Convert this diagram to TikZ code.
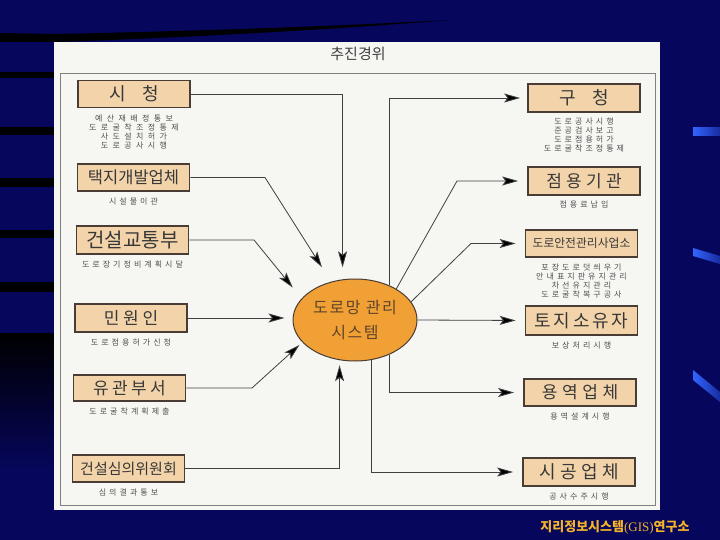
\documentclass[tikz,border=0pt]{standalone}
\usepackage{fontspec}
\setmainfont{Noto Sans CJK KR}
\newfontfamily\latinserif{Liberation Serif}
\usetikzlibrary{arrows.meta,shapes.geometric,positioning}
\definecolor{navybg}{RGB}{6,6,92}
\definecolor{paper}{RGB}{246,246,242}
\definecolor{boxtan}{RGB}{243,212,170}
\definecolor{boxline}{RGB}{72,60,52}
\definecolor{sysorange}{RGB}{240,160,52}
\definecolor{systext}{RGB}{95,68,42}
\definecolor{notegray}{RGB}{80,80,80}
\definecolor{gisgold}{RGB}{245,180,40}
\definecolor{stripeblue}{RGB}{50,100,255}

\begin{document}
\begin{tikzpicture}[x=1pt,y=-1pt,
  box/.style={draw=boxline, line width=1.8pt, fill=boxtan, minimum width=112pt,
    minimum height=27pt, inner sep=0pt, text=black!78},
  note/.style={text=notegray, align=center, inner sep=0pt,
    font=\fontsize{8}{9}\selectfont\addfontfeature{LetterSpace=38}},
  arr/.style={draw=black!75, line width=0.8pt,
    -{Stealth[length=16pt,width=9pt,inset=3.5pt,fill=black]}},
  ]
\useasboundingbox (0,0) rectangle (720,540);

% background
\fill[navybg] (0,0) rectangle (720,540);
\fill[black] (0,33) -- (56,34) .. controls (200,31) and (340,26) .. (450,20)
  .. controls (340,29) and (200,37) .. (56,42) -- (0,42) -- cycle;
\foreach \ya/\yb in {72/78, 127/135, 178/187, 230/238, 282/292}
  \fill[black] (0,\ya) rectangle (56,\yb);
\shade[top color=black, bottom color=navybg] (0,333) rectangle (56,470);
\shade[left color=stripeblue, right color=stripeblue!40!navybg] (693,128) rectangle (720,136);
\shade[left color=stripeblue, right color=stripeblue!40!navybg]
  (693,248) -- (720,256) -- (720,264) -- (693,256) -- cycle;
\shade[left color=stripeblue, right color=stripeblue!40!navybg]
  (693,370) -- (720,392) -- (720,402) -- (693,380) -- cycle;

% panel
\fill[paper] (54,42) rectangle (660,510);
\draw[black!50, line width=0.8pt] (60,73) rectangle (655,505);
\node (title) at (358,54) [font=\fontsize{15}{15}\selectfont, text=black!75] {추진경위};

% centre
\node (sys) at (355,320) [ellipse, draw=boxline, line width=1pt, fill=sysorange,
  minimum width=124pt, minimum height=82pt, inner sep=0pt, align=center, text=systext,
  font=\fontsize{16}{25}\selectfont\addfontfeature{LetterSpace=10}] {도로망 관리\\시스템};

% left side
\node (sicheong) at (134,94) [box, font=\fontsize{18}{18}\selectfont] {시\hspace{0.9em}청};
\node (sicheongnote) [note, below=6pt of sicheong,
  font=\fontsize{8}{9}\selectfont\addfontfeature{LetterSpace=55}]
  {예산재배정통보\\도로굴착조정통제\\사도설치허가\\도로공사시행};
\node (taekji) at (133.5,177.5) [box, font=\fontsize{16.5}{16.5}\selectfont] {택지개발업체};
\node (taekjinote) [note, below=6pt of taekji] {시설물이관};
\node (geonseol) at (132.5,240) [box, minimum height=28pt, font=\fontsize{20}{20}\selectfont] {건설교통부};
\node (geonseolnote) [note, below=6pt of geonseol] {도로장기정비계획시달};
\node (minwon) at (131,318) [box, minimum height=28pt,
  font=\fontsize{17}{17}\selectfont\addfontfeature{LetterSpace=22}] {민원인};
\node (minwonnote) [note, below=6pt of minwon] {도로점용허가신청};
\node (yugwan) at (129.5,388) [box, minimum height=26pt,
  font=\fontsize{17}{17}\selectfont\addfontfeature{LetterSpace=20}] {유관부서};
\node (yugwannote) [note, below=6pt of yugwan] {도로굴착계획제출};
\node (council) at (128.5,468.5) [box, font=\fontsize{15}{15}\selectfont] {건설심의위원회};
\node (councilnote) [note, below=6pt of council] {심의결과통보};

% right side
\node (gucheong) at (584,98) [box, minimum height=28pt, font=\fontsize{18}{18}\selectfont] {구\hspace{0.9em}청};
\node (gucheongnote) [note, below=5pt of gucheong]
  {도로공사시행\\준공검사보고\\도로점용허가\\도로굴착조정통제};
\node (jeomyong) at (584,181) [box, minimum height=28pt,
  font=\fontsize{17}{17}\selectfont\addfontfeature{LetterSpace=25}] {점용기관};
\node (jeomyongnote) [note, below=5pt of jeomyong] {점용료납입};
\node (anjeon) at (581.5,243.5) [box, font=\fontsize{11.8}{11.8}\selectfont] {도로안전관리사업소};
\node (anjeonnote) [note, below=6pt of anjeon]
  {포장도로덧씌우기\\안내표지판유지관리\\차선유지관리\\도로굴착복구공사};
\node (toji) at (581.5,320.5) [box, minimum height=29pt,
  font=\fontsize{18}{18}\selectfont\addfontfeature{LetterSpace=15}] {토지소유자};
\node (tojinote) [note, below=6pt of toji] {보상처리시행};
\node (yongyeok) at (580,392.5) [box,
  font=\fontsize{17}{17}\selectfont\addfontfeature{LetterSpace=27}] {용역업체};
\node (yongyeoknote) [note, below=6pt of yongyeok] {용역설계시행};
\node (sigong) at (579,472) [box, minimum height=28pt,
  font=\fontsize{18}{18}\selectfont\addfontfeature{LetterSpace=25}] {시공업체};
\node (sigongnote) [note, below=6pt of sigong] {공사수주시행};

% bends
\coordinate (tkbend) at (265,177.5);
\coordinate (gsbend) at (254,240);
\coordinate (ygbend) at (252,388);
\coordinate (jybend) at (457,181);
\coordinate (ajbend) at (471,243.5);

% inputs
\draw[arr, shorten >=12pt] (sicheong.east) -| (sys.107);
\draw[arr, shorten >=17pt] (taekji.east) -- (tkbend) -- (sys.122);
\draw[arr, shorten >=14pt] (geonseol.east) -- (gsbend) -- (sys.158);
\draw[arr, shorten >=8pt] (minwon.east) -- (minwon.east -| sys.west);
\draw[arr, shorten >=4pt] (yugwan.east) -- (ygbend) -- (sys.203);
\draw[arr, shorten >=5pt] (council.east) -| (sys.-111);

% outputs
\draw[arr, shorten >=7pt] (sys.45) |- (gucheong.west);
\draw[arr, shorten >=9pt] (sys.37) -- (jybend) -- (jeomyong.west);
\draw[arr, shorten >=9pt] (sys.18) -- (ajbend) -- (anjeon.west);
\draw[arr, shorten >=9pt] (sys.east) -- (toji.west);
\draw[arr, shorten >=9pt] (sys.-45) |- (yongyeok.west);
\draw[arr, shorten >=9pt] (sys.-68) |- (sigong.west);

% footer
\node (gis) at (615,527) [font=\fontsize{13}{13}\selectfont\bfseries, text=gisgold]
  {지리정보시스템{\latinserif\mdseries (GIS)}연구소};
\end{tikzpicture}
\end{document}
